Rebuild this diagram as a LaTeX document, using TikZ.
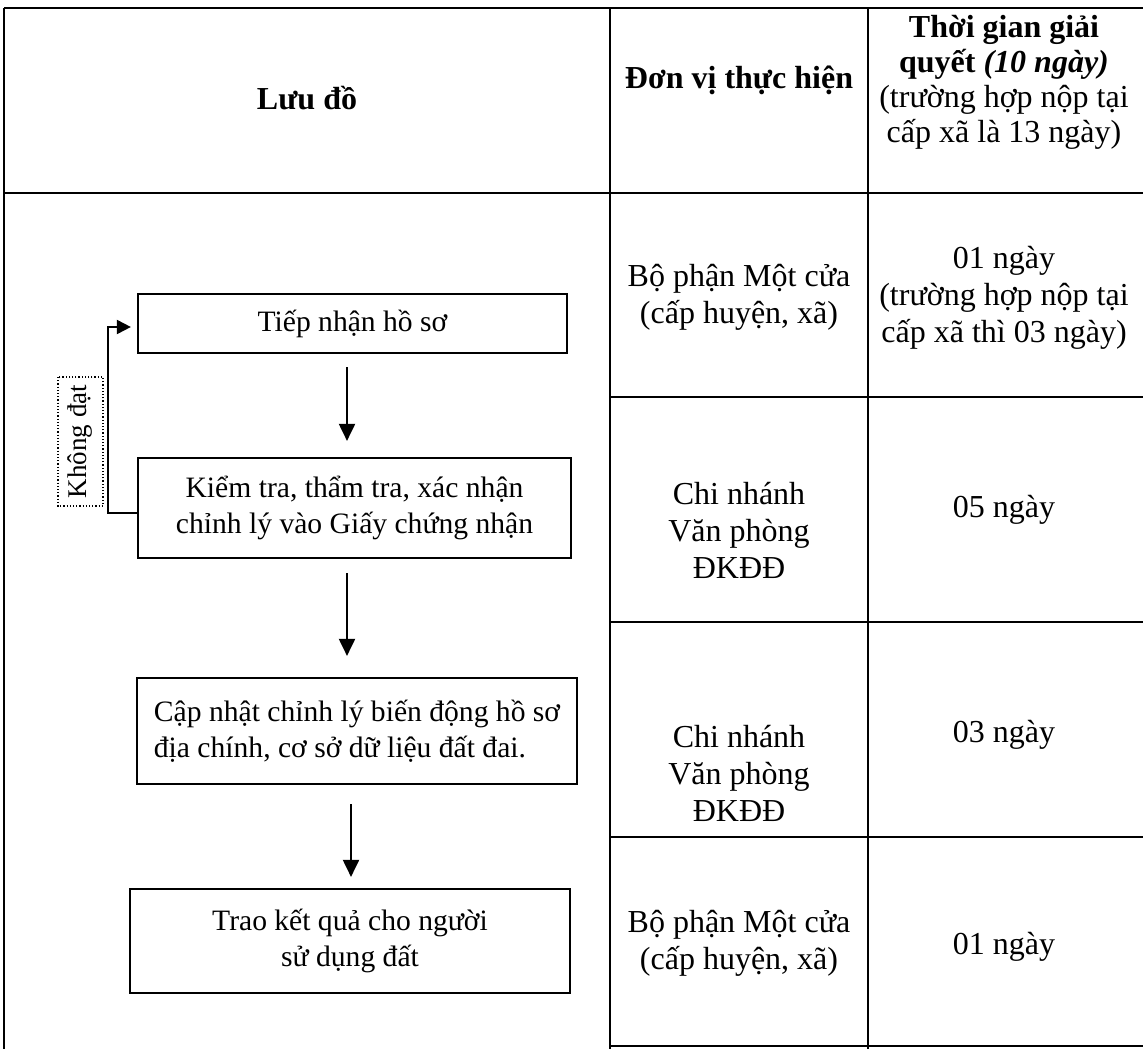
\documentclass[tikz,border=0pt]{standalone}
\usepackage{fontspec}
\setmainfont{Liberation Serif}
\usetikzlibrary{arrows.meta}
\begin{document}
\begin{tikzpicture}[x=0.5pt,y=-0.5pt,
  every node/.style={font=\fontsize{14.8pt}{18pt}\selectfont, align=center, inner sep=0pt},
  celltext/.style={font=\fontsize{16pt}{18.5pt}\selectfont},
  headtext/.style={font=\fontsize{16pt}{17.5pt}\selectfont},
  flowbox/.style={draw, line width=1.1pt, inner sep=0pt},
  tline/.style={line width=1pt},
  arr/.style={line width=1pt, -{Triangle[length=8.5pt,width=8pt]}},
  backarr/.style={line width=1pt, -{Triangle[length=7pt,width=7pt]}},
]
\useasboundingbox (0,0) rectangle (1143,1049);
% table grid
\draw[tline] (4,8) -- (1143,8);
\draw[tline] (4,193) -- (1143,193);
\draw[tline] (4,8) -- (4,1049);
\draw[tline] (610,8) -- (610,1049);
\draw[tline] (868,8) -- (868,1049);
\draw[tline] (610,397) -- (1143,397);
\draw[tline] (610,622) -- (1143,622);
\draw[tline] (610,837) -- (1143,837);
\draw[tline] (610,1046) -- (1143,1046);

% header
\node[headtext] (h1) at (307,98) {\bfseries Lưu đồ};
\node[headtext] (h2) at (739,80) {\bfseries Đơn vị thực hiện};
\node[headtext] (h3) at (1004,82) {{\bfseries Thời gian giải}\\{\bfseries quyết \itshape(10 ngày)}\\(trường hợp nộp tại\\cấp xã là 13 ngày)};

% cells
\node[celltext] (u1) at (739,297) {Bộ phận Một cửa\\(cấp huyện, xã)};
\node[celltext] (t1) at (1004,298) {01 ngày\\(trường hợp nộp tại\\cấp xã thì 03 ngày)};
\node[celltext] (u2) at (739,530) {Chi nhánh\\Văn phòng\\ĐKĐĐ};
\node[celltext] (t2) at (1004,510) {05 ngày};
\node[celltext] (u3) at (739,773) {Chi nhánh\\Văn phòng\\ĐKĐĐ};
\node[celltext] (t3) at (1004,735) {03 ngày};
\node[celltext] (u4) at (739,943) {Bộ phận Một cửa\\(cấp huyện, xã)};
\node[celltext] (t4) at (1004,947) {01 ngày};

% flow boxes
\node[flowbox, minimum width=214.5pt, minimum height=29.5pt] (b1) at (352.5,323.5) {Tiếp nhận hồ sơ};
\node[flowbox, minimum width=216.5pt, minimum height=50pt] (b2) at (354.5,508) {Kiểm tra, thẩm tra, xác nhận\\chỉnh lý vào Giấy chứng nhận};
\node[flowbox, minimum width=220pt, minimum height=53pt, align=left, inner xsep=8pt] (b3) at (357,731) {Cập nhật chỉnh lý biến động hồ sơ\\địa chính, cơ sở dữ liệu đất đai.};
\node[flowbox, minimum width=220pt, minimum height=52pt] (b4) at (350,941) {Trao kết quả cho người\\sử dụng đất};

% connectors
\coordinate (ca) at (347,0);
\coordinate (cb) at (351,0);
\coordinate (fb) at (108,0);
\draw[arr, shorten <=6.5pt, shorten >=8pt] (b1.south -| ca) -- (b2.north -| ca);
\draw[arr, shorten <=7pt, shorten >=10.5pt] (b2.south -| ca) -- (b3.north -| ca);
\draw[arr, shorten <=9.5pt, shorten >=5.5pt] (b3.south -| cb) -- (b4.north -| cb);
\coordinate (fbs) at ([yshift=-2.5pt]b2.west);
\coordinate (fbe) at ([yshift=-1.75pt]b1.west);
\draw[backarr, shorten >=3pt] (fbs) -- (fbs -| fb) |- (fbe);

% feedback label
\node[draw, densely dotted, line width=0.6pt, rotate=90, minimum width=64.5pt, minimum height=22.5pt, font=\fontsize{13.5pt}{16pt}\selectfont] (kd) at (80.5,441.5) {Không đạt};
\end{tikzpicture}
\end{document}
